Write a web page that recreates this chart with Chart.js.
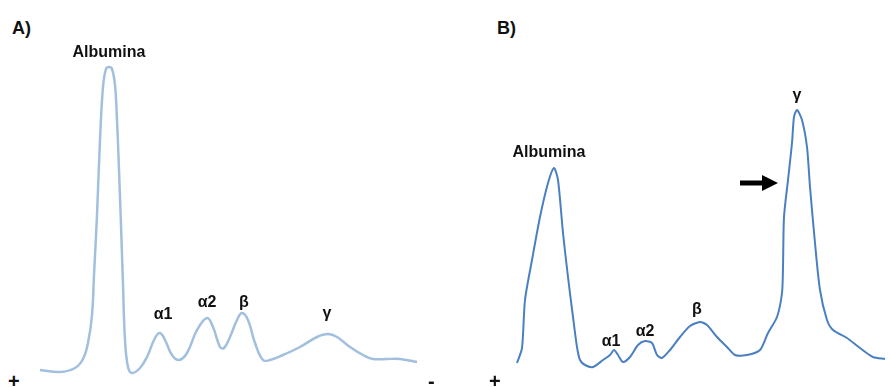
<!DOCTYPE html>
<html>
<head>
<meta charset="utf-8">
<script src="https://cdn.jsdelivr.net/npm/chart.js@4.4.1/dist/chart.umd.min.js"></script>
<style>
  html, body { margin: 0; padding: 0; background: #fff; overflow: hidden; }
  body { width: 891px; height: 387px; position: relative; font-family: "Liberation Sans", Arial, sans-serif; }
  canvas { position: absolute; }
  .txt { position: absolute; font-weight: bold; font-size: 18px; line-height: 18px; color: #111; white-space: nowrap; }
</style>
</head>
<body>
<canvas id="chartA" width="400" height="345" style="left:30px;top:40px"></canvas>
<canvas id="chartB" width="400" height="345" style="left:490px;top:40px"></canvas>
<div class="txt" style="left:12px;top:19px">A)</div>
<div class="txt" style="left:497px;top:19px">B)</div>
<div class="txt" style="left:8px;top:372px;font-size:20px">+</div>
<div class="txt" style="left:428px;top:372px;font-size:20px">-</div>
<div class="txt" style="left:489px;top:372px;font-size:20px">+</div>
<script>
// panel A: normal proteinogram (migration, intensity)
const migrationA = [10, 30, 45, 53, 58, 62, 64, 67, 70, 73, 76, 79, 82, 85, 87, 89, 91, 93, 95, 98, 102, 110, 117, 125, 130, 135, 142, 149, 157, 167, 177, 183, 190, 194, 200, 207, 212, 218, 225, 233, 240, 253, 270, 287, 298, 307, 320, 333, 343, 357, 370, 387];
const intensityA = [15, 13, 17, 26, 42, 70, 110, 170, 245, 298, 316, 318, 316, 300, 265, 215, 160, 100, 45, 18, 12, 17, 28, 47, 52, 45, 30, 25, 32, 55, 67, 58, 38, 37, 48, 65, 72, 65, 42, 25, 25, 30, 38, 48, 51, 48, 38, 30, 26, 26, 26, 23];

// panel B: monoclonal gamma peak
const migrationB = [27, 32, 35, 42, 50, 58, 64, 68, 73, 78, 83, 87, 90, 95, 103, 113, 120, 124, 128, 133, 140, 148, 155, 162, 167, 172, 180, 190, 200, 210, 217, 227, 237, 245, 257, 270, 278, 287, 292, 293, 294, 298, 302, 304, 307, 312, 317, 320, 325, 330, 337, 343, 357, 370, 383, 395];
const intensityB = [22, 37, 85, 125, 168, 202, 217, 205, 152, 108, 68, 38, 25, 20, 18, 25, 30, 35, 30, 23, 28, 40, 44, 42, 30, 27, 35, 48, 59, 63, 60, 48, 38, 30, 30, 35, 52, 68, 92, 118, 168, 205, 242, 268, 275, 265, 238, 198, 142, 95, 65, 55, 47, 37, 28, 26];

// fraction labels: text, migration, intensity (baseline)
const labelsA = ["Albumina", "α1", "α2", "β", "γ"];
const labelXA = [79, 133, 177, 214, 297];
const labelYA = [328, 66, 78, 78, 67];

const labelsB = ["Albumina", "α1", "α2", "β", "γ"];
const labelXB = [59, 121, 155, 207, 307];
const labelYB = [228, 39, 49, 71, 285];

// arrow pointing at the gamma peak (panel B)
const arrowFromB = [250, 202];
const arrowToB = [288, 202];

const labelPlugin = {
  id: "fractionLabels",
  afterDatasetsDraw(chart, args, opts) {
    const { ctx, scales } = chart;
    ctx.save();
    ctx.fillStyle = "#111";
    ctx.font = "bold 16px 'Liberation Sans', Arial, sans-serif";
    ctx.textAlign = "center";
    ctx.textBaseline = "alphabetic";
    opts.text.forEach((t, i) => {
      ctx.fillText(t, scales.x.getPixelForValue(opts.xs[i]), scales.y.getPixelForValue(opts.ys[i]));
    });
    if (opts.arrowFrom) {
      const x0 = scales.x.getPixelForValue(opts.arrowFrom[0]);
      const y0 = scales.y.getPixelForValue(opts.arrowFrom[1]);
      const x1 = scales.x.getPixelForValue(opts.arrowTo[0]);
      const y1 = scales.y.getPixelForValue(opts.arrowTo[1]);
      ctx.strokeStyle = "#000";
      ctx.lineWidth = 5;
      ctx.beginPath();
      ctx.moveTo(x0, y0);
      ctx.lineTo(x1 - 14, y1);
      ctx.stroke();
      ctx.fillStyle = "#000";
      ctx.beginPath();
      ctx.moveTo(x1, y1);
      ctx.lineTo(x1 - 16, y1 - 8);
      ctx.lineTo(x1 - 16, y1 + 8);
      ctx.closePath();
      ctx.fill();
    }
    ctx.restore();
  },
};

function makeChart(id, xs, ys, color, width, tension, labelOpts) {
  return new Chart(document.getElementById(id), {
    type: "line",
    data: {
      datasets: [
        {
          data: xs.map((x, i) => ({ x: x, y: ys[i] })),
          borderColor: color,
          borderWidth: width,
          pointRadius: 0,
          fill: false,
          tension: tension,
          clip: false,
        },
      ],
    },
    options: {
      responsive: false,
      animation: false,
      layout: { padding: 0 },
      scales: {
        x: { type: "linear", min: 0, max: 400, display: false },
        y: { min: 0, max: 345, display: false },
      },
      plugins: {
        legend: { display: false },
        tooltip: { enabled: false },
        fractionLabels: labelOpts,
      },
    },
    plugins: [labelPlugin],
  });
}

makeChart("chartA", migrationA, intensityA, "#a2c0de", 2.5, 0.4, {
  text: labelsA, xs: labelXA, ys: labelYA,
});
makeChart("chartB", migrationB, intensityB, "#4a80c2", 2, 0.25, {
  text: labelsB, xs: labelXB, ys: labelYB, arrowFrom: arrowFromB, arrowTo: arrowToB,
});
</script>
</body>
</html>
